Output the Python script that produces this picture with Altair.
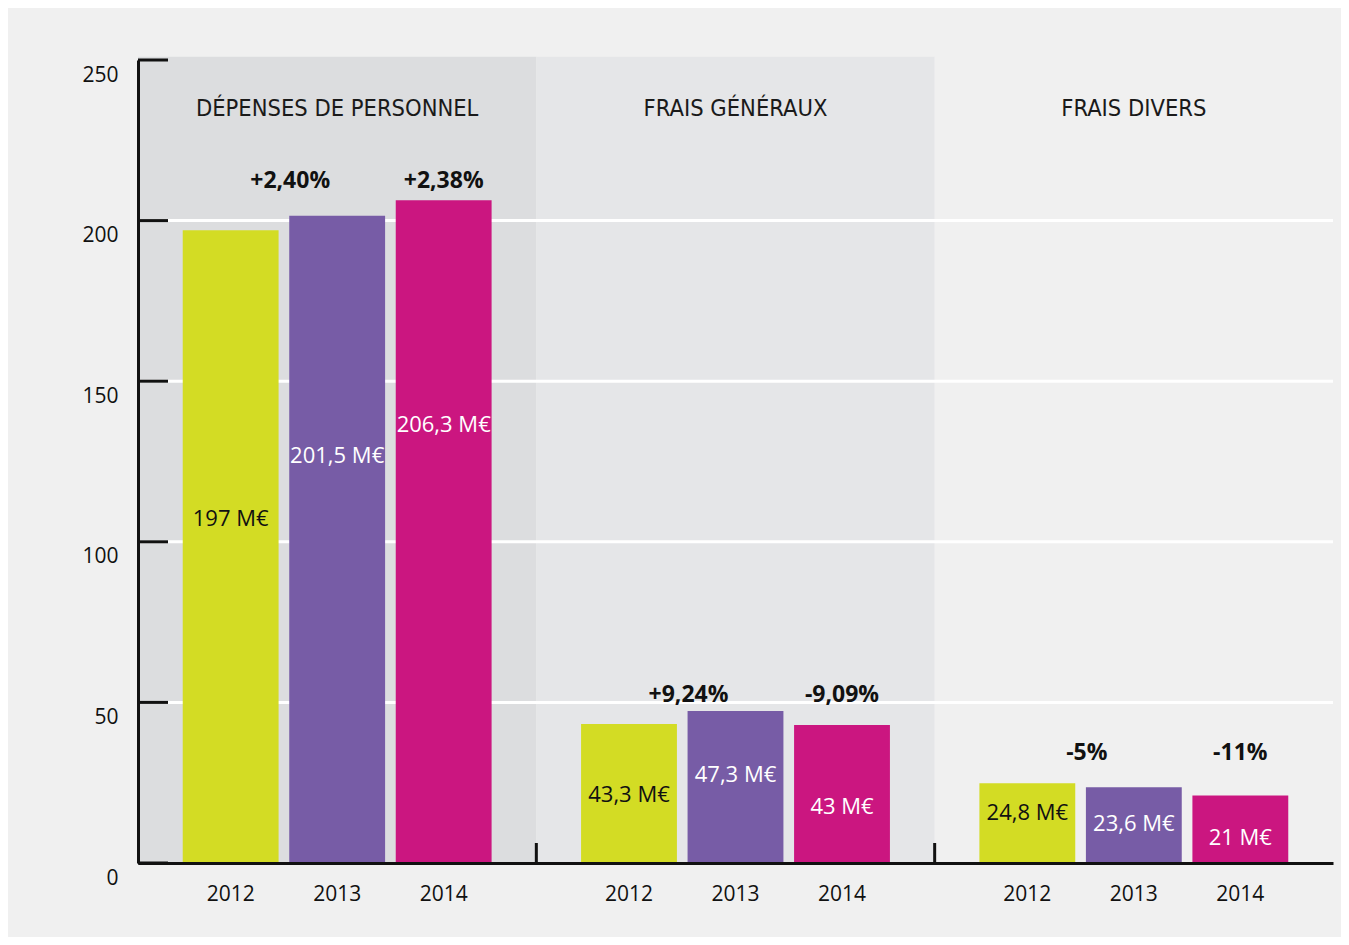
import altair as alt
import pandas as pd

# ---- data ----
categories = ["DÉPENSES DE PERSONNEL", "FRAIS GÉNÉRAUX", "FRAIS DIVERS"]
years = ["2012", "2013", "2014"]

personnel = [197.0, 201.5, 206.3]
generaux = [43.3, 47.3, 43.0]
divers = [24.8, 23.6, 21.0]

personnel_labels = ["197 M€", "201,5 M€", "206,3 M€"]
generaux_labels = ["43,3 M€", "47,3 M€", "43 M€"]
divers_labels = ["24,8 M€", "23,6 M€", "21 M€"]

# where each value label sits inside its bar (in data units)
personnel_label_at = [107.1, 126.7, 136.4]
generaux_label_at = [21.2, 27.4, 17.4]
divers_label_at = [15.6, 12.1, 7.8]

# year-on-year changes (for 2013 and 2014) and their height (data units)
change_2013 = ["+2,40%", "+9,24%", "-5%"]
change_2014 = ["+2,38%", "-9,09%", "-11%"]
change_at = [212.3, 52.3, 34.2]

y_ticks = [0, 50, 100, 150, 200, 250]
grid_lines = [50, 100, 150, 200]

bar_colors = ["#d3dc24", "#775ca6", "#cb1680"]
panel_colors = ["#dcdddf", "#e5e6e8", "#f0f0f0"]

# ---- tables ----
vals = [personnel, generaux, divers]
labs = [personnel_labels, generaux_labels, divers_labels]
lat = [personnel_label_at, generaux_label_at, divers_label_at]
rows = []
for ci, c in enumerate(categories):
    for yi, y in enumerate(years):
        rows.append({"cat": c, "year": y, "value": vals[ci][yi],
                     "label": labs[ci][yi], "label_at": lat[ci][yi]})
bars_df = pd.DataFrame(rows)

chg_rows = []
for ci, c in enumerate(categories):
    chg_rows.append({"cat": c, "year": "2013", "text": change_2013[ci], "at": change_at[ci]})
    chg_rows.append({"cat": c, "year": "2014", "text": change_2014[ci], "at": change_at[ci]})
chg_df = pd.DataFrame(chg_rows)

cat_df = pd.DataFrame({"cat": categories, "top": [251] * 3, "bottom": [0] * 3})
grid_df = pd.DataFrame({"v": grid_lines})
ticks_df = pd.DataFrame({"v": y_ticks})

W, H = 1195, 803
FONT = "Open Sans"
HEAD_FONT = "Liberation Sans Narrow, DejaVu Sans Condensed, sans-serif"

x_enc = alt.X("cat:N", sort=categories,
              scale=alt.Scale(paddingInner=0, paddingOuter=0),
              axis=alt.Axis(labels=False, ticks=False, title=None, grid=False,
                            domain=True, domainColor="#111", domainWidth=3, zindex=1))
xo_enc = alt.XOffset("year:N", sort=years,
                     scale=alt.Scale(paddingInner=0.1, paddingOuter=0.42))
y_scale = alt.Scale(domain=[0, 250], nice=False, zero=True)

panels = alt.Chart(cat_df).mark_rect().encode(
    x=x_enc,
    y=alt.Y("top:Q", scale=y_scale,
            axis=alt.Axis(values=y_ticks, title=None, grid=False, ticks=False,
                          domain=True, domainColor="#111", domainWidth=3,
                          labelFont=FONT, labelFontSize=21, labelColor="#111",
                          labelOffset=15, labelPadding=20, zindex=1)),
    y2="bottom:Q",
    fill=alt.Fill("cat:N", scale=alt.Scale(domain=categories, range=panel_colors), legend=None),
)

grid = alt.Chart(grid_df).mark_rule(color="white", strokeWidth=3).encode(
    y="v:Q", x=alt.value(0), x2=alt.value(W)
)

bars = alt.Chart(bars_df).mark_bar().encode(
    x=x_enc, xOffset=xo_enc, y="value:Q",
    color=alt.Color("year:N", scale=alt.Scale(domain=years, range=bar_colors), legend=None),
)

value_text = alt.Chart(bars_df).mark_text(font=FONT, fontSize=22).encode(
    x=x_enc, xOffset=xo_enc, y="label_at:Q", text="label:N",
    color=alt.condition("datum.year == '2012'", alt.value("#111"), alt.value("white")),
)

chg13 = alt.Chart(chg_df).transform_filter("datum.year == '2013'").mark_text(
    font=FONT, fontSize=23, fontWeight="bold", color="#111", dx=-47
).encode(x=x_enc, xOffset=xo_enc, y="at:Q", text="text:N")

chg14 = alt.Chart(chg_df).transform_filter("datum.year == '2014'").mark_text(
    font=FONT, fontSize=23, fontWeight="bold", color="#111"
).encode(x=x_enc, xOffset=xo_enc, y="at:Q", text="text:N")

year_text = alt.Chart(bars_df).mark_text(font=FONT, fontSize=21, color="#111").encode(
    x=x_enc, xOffset=xo_enc, y=alt.value(H + 32), text="year:N"
)

headers = alt.Chart(cat_df).mark_text(font=HEAD_FONT, fontSize=23.5, color="#1a1a1a").encode(
    x=x_enc, y=alt.value(49), text="cat:N"
)

ytick_marks = alt.Chart(ticks_df).mark_rule(color="#111", strokeWidth=3).encode(
    y="v:Q", x=alt.value(0), x2=alt.value(30)
)

xtick_marks = alt.Chart(cat_df).transform_filter(
    "datum.cat != '%s'" % categories[0]
).mark_rule(color="#111", strokeWidth=3).encode(
    x=alt.X("cat:N", sort=categories, bandPosition=0),
    y=alt.value(H), y2=alt.value(H - 20)
)

chart = alt.layer(
    panels, grid, bars, value_text, chg13, chg14, year_text, headers, ytick_marks, xtick_marks
).properties(
    width=W, height=H,
    padding={"left": 130, "top": 52, "right": 8, "bottom": 74},
    autosize=alt.AutoSizeParams(type="none"),
    background="#f0f0f0",
).configure_view(stroke=None)

chart.save("out.html", embed_options={"renderer": "svg", "actions": False})
